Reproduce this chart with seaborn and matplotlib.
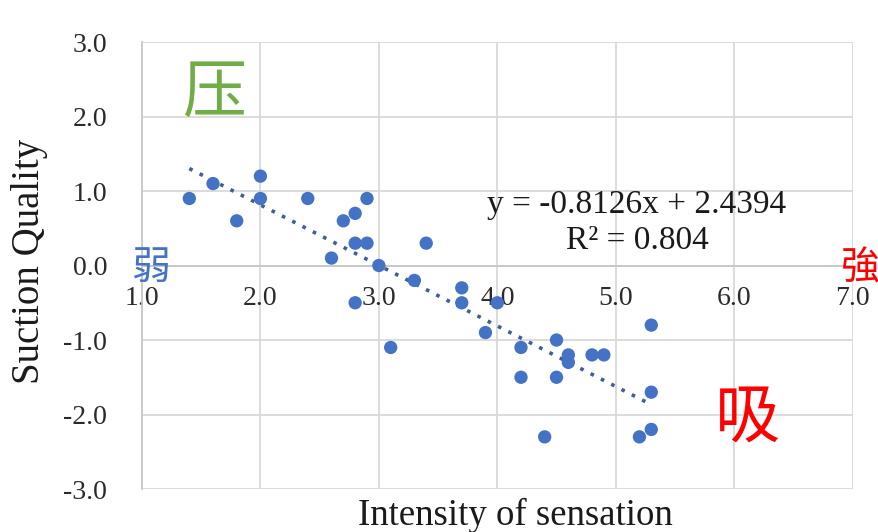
import matplotlib
matplotlib.use("Agg")
import matplotlib.pyplot as plt
import seaborn as sns
import numpy as np
import pandas as pd

intensity = [1.4, 1.6, 1.8, 2.0, 2.0, 2.4, 2.6, 2.7, 2.8, 2.8, 2.9, 2.9, 2.8, 3.0,
             3.1, 3.3, 3.4, 3.7, 3.7, 4.0, 3.9, 4.2, 4.2, 4.4, 4.5, 4.5, 4.6, 4.6,
             4.8, 4.9, 5.3, 5.3, 5.2, 5.3]
quality = [0.9, 1.1, 0.6, 1.2, 0.9, 0.9, 0.1, 0.6, 0.7, 0.3, 0.3, 0.9, -0.5, 0.0,
           -1.1, -0.2, 0.3, -0.3, -0.5, -0.5, -0.9, -1.1, -1.5, -2.3, -1.0, -1.5, -1.2, -1.3,
           -1.2, -1.2, -0.8, -1.7, -2.3, -2.2]
trend_slope = -0.8126
trend_intercept = 2.4394
r_squared = 0.804
x_ticks = [1.0, 2.0, 3.0, 4.0, 5.0, 6.0, 7.0]
y_ticks = [-3.0, -2.0, -1.0, 0.0, 1.0, 2.0, 3.0]

df = pd.DataFrame({"x": intensity, "y": quality})

sns.set_theme(style="white")
plt.rcParams['font.family'] = ['Liberation Serif', 'Noto Sans CJK SC']

fig = plt.figure(figsize=(8.79, 5.32), dpi=100)
ax = fig.add_axes([0.1615, 0.0808, 0.8085, 0.8402])

xs = np.array([min(intensity), max(intensity)])
ax.plot(xs, trend_slope * xs + trend_intercept, linestyle=(0, (1, 2.2)),
        color="#3f5f93", linewidth=2.6, zorder=2)

sns.scatterplot(data=df, x="x", y="y", ax=ax, color="#4472c4", s=92,
                edgecolor="none", zorder=3, legend=False)

grid_c = "#d9d9d9"
for s in ["top", "right"]:
    ax.spines[s].set_visible(False)
ax.spines["left"].set_color("#c8c8c8")
ax.spines["left"].set_linewidth(1.3)
ax.spines["bottom"].set_position(("data", 0))
ax.spines["bottom"].set_color("#c8c8c8")
ax.spines["bottom"].set_linewidth(1.3)

ax.set_xlim(1, 7)
ax.set_ylim(-3, 3)
ax.set_xticks(x_ticks)
ax.set_yticks(y_ticks)
ax.set_xticklabels([f"{v:.1f}" for v in x_ticks])
ax.set_yticklabels([f"{v:.1f}" for v in y_ticks])
ax.tick_params(axis="x", length=0, pad=15, labelsize=20, labelcolor="#2a2a2a")
ax.tick_params(axis="y", length=0, pad=25, labelsize=20, labelcolor="#2a2a2a")
ax.grid(True, color=grid_c, linewidth=1.3)
ax.set_axisbelow(True)

ax.set_xlabel("")
ax.set_ylabel("")
fig.text(0.586, 0.032, "Intensity of sensation", fontsize=26.5, ha="center", va="center",
         color="#1a1a1a")
fig.text(0.034, 0.508, "Suction Quality", fontsize=28, ha="center", va="center",
         rotation=90, color="#1a1a1a")

fig.text(0.724, 0.616, f"y = {trend_slope}x + {trend_intercept}",
         fontsize=24, ha="center", va="center", color="#1a1a1a")
fig.text(0.725, 0.547, f"R² = {r_squared}",
         fontsize=24, ha="center", va="center", color="#1a1a1a")

cjk = ['Noto Sans CJK SC']
fig.text(0.245, 0.825, "压", fontsize=46, color="#70ad47", ha="center", va="center", family=cjk)
fig.text(0.851, 0.214, "吸", fontsize=47, color="#ff0000", ha="center", va="center", family=cjk)
fig.text(0.171, 0.496, "弱", fontsize=28, color="#4472c4", ha="center", va="center", family=cjk)
fig.text(0.978, 0.496, "強", fontsize=28, color="#ff0000", ha="center", va="center", family=cjk)

fig.savefig("out.png", dpi=100)
